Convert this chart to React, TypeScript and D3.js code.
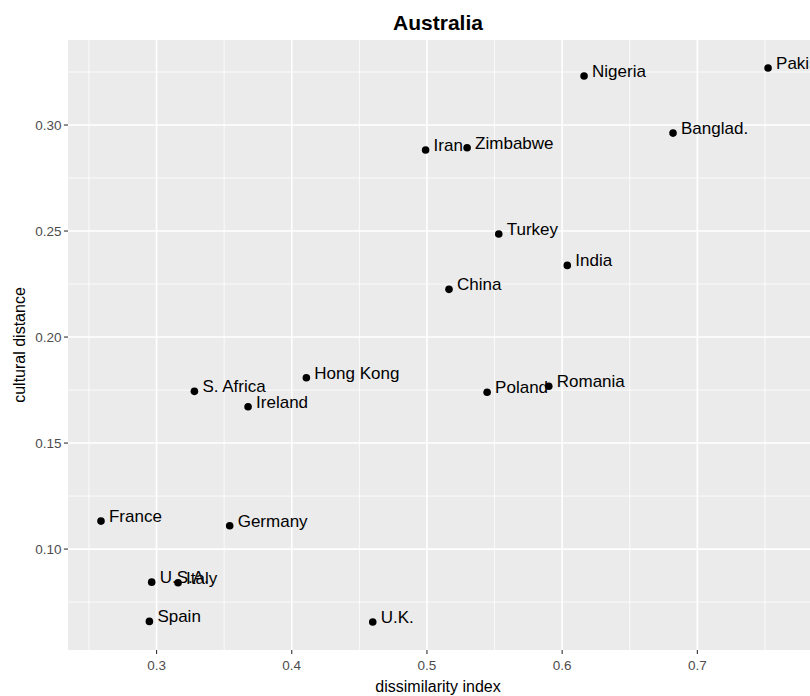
import React from "react";
import * as d3 from "d3";

const countries = ["Pakistan","Nigeria","Banglad.","Iran","Zimbabwe","Turkey","India","China","Hong Kong","S. Africa","Ireland","Poland","Romania","France","Germany","U.S.A.","Italy","Spain","U.K."];
const dissimilarity = [0.7523,0.6162,0.682,0.499,0.5297,0.5531,0.6038,0.5163,0.4108,0.328,0.3677,0.5445,0.5901,0.2589,0.3541,0.2964,0.3159,0.2947,0.4599];
const cultural = [0.3269,0.3231,0.2962,0.2882,0.2893,0.2486,0.2338,0.2225,0.1808,0.1744,0.1671,0.174,0.1768,0.1132,0.111,0.0844,0.0841,0.0659,0.0656];
const xTicks = [0.3,0.4,0.5,0.6,0.7];
const xMinor = [0.25,0.35,0.45,0.55,0.65,0.75];
const yTicks = [0.10,0.15,0.20,0.25,0.30];
const yMinor = [0.075,0.125,0.175,0.225,0.275,0.325];

const W = 810, H = 696;
const left = 68, top = 40, bottom = 650;

export default function App() {
  const x = d3.scaleLinear().domain([0.2345, 0.79]).range([left, left + (0.79 - 0.2345) * 1352]);
  const y = d3.scaleLinear().domain([0.0524, 0.3401]).range([bottom, top]);
  const right = x(0.79);
  const font = "Arial, 'Liberation Sans', sans-serif";
  return (
    <>
      <style>{`body{margin:0}`}</style>
      <svg width={W} height={H} style={{ display: "block", fontFamily: font }}>
        <rect x={0} y={0} width={W} height={H} fill="#fff" />
        <text x={438} y={30} textAnchor="middle" fontSize={21} fontWeight="bold" fill="#000">Australia</text>
        <rect x={left} y={top} width={right - left} height={bottom - top} fill="#EBEBEB" />
        {xMinor.map((v) => (
          <line key={"xm" + v} x1={x(v)} x2={x(v)} y1={top} y2={bottom} stroke="#fff" strokeWidth={0.8} />
        ))}
        {yMinor.map((v) => (
          <line key={"ym" + v} x1={left} x2={right} y1={y(v)} y2={y(v)} stroke="#fff" strokeWidth={0.8} />
        ))}
        {xTicks.map((v) => (
          <line key={"xM" + v} x1={x(v)} x2={x(v)} y1={top} y2={bottom} stroke="#fff" strokeWidth={1.6} />
        ))}
        {yTicks.map((v) => (
          <line key={"yM" + v} x1={left} x2={right} y1={y(v)} y2={y(v)} stroke="#fff" strokeWidth={1.6} />
        ))}
        {countries.map((c, i) => (
          <g key={c}>
            <circle cx={x(dissimilarity[i])} cy={y(cultural[i])} r={3.8} fill="#000" />
            <text x={x(dissimilarity[i]) + 8} y={y(cultural[i]) + 1} fontSize={17} fill="#000">{c}</text>
          </g>
        ))}
        {xTicks.map((v) => (
          <g key={"xt" + v}>
            <line x1={x(v)} x2={x(v)} y1={bottom} y2={bottom + 4} stroke="#333" strokeWidth={1.1} />
            <text x={x(v)} y={670} textAnchor="middle" fontSize={13.5} fill="#4D4D4D">{d3.format(".1f")(v)}</text>
          </g>
        ))}
        {yTicks.map((v) => (
          <g key={"yt" + v}>
            <line x1={left - 4} x2={left} y1={y(v)} y2={y(v)} stroke="#333" strokeWidth={1.1} />
            <text x={61.5} y={y(v) + 4.8} textAnchor="end" fontSize={13.5} fill="#4D4D4D">{d3.format(".2f")(v)}</text>
          </g>
        ))}
        <text x={438} y={692} textAnchor="middle" fontSize={16} fill="#000">dissimilarity index</text>
        <text transform={`translate(25,${(top + bottom) / 2}) rotate(-90)`} textAnchor="middle" fontSize={16} fill="#000">cultural distance</text>
      </svg>
    </>
  );
}
